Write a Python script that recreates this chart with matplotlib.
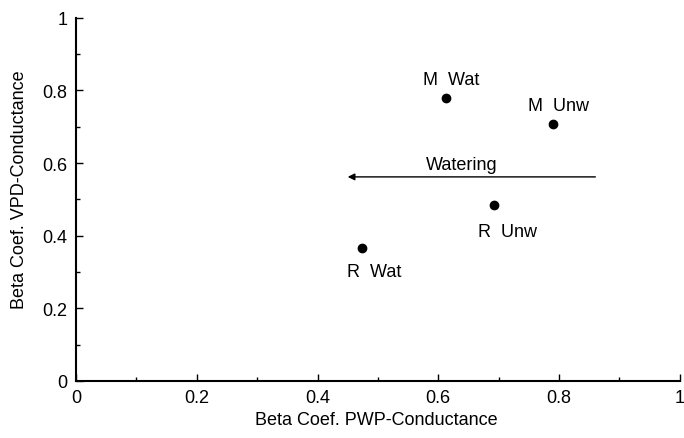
import matplotlib
matplotlib.use("Agg")
import matplotlib.pyplot as plt
from matplotlib.ticker import MultipleLocator

plt.rcParams['font.family'] = ['Liberation Sans', 'DejaVu Sans']

# Data
groups = ["M  Wat", "M  Unw", "R  Unw", "R  Wat"]
pwp_beta = [0.612, 0.790, 0.692, 0.473]
vpd_beta = [0.780, 0.708, 0.485, 0.366]
label_offsets = [(4, 13), (4, 13), (10, -19), (9, -17)]  # points
arrow_start = (0.86, 0.562)
arrow_end = (0.45, 0.562)
arrow_label = "Watering"
x_ticks = [0, 0.2, 0.4, 0.6, 0.8, 1]
x_ticklabels = ["0", "0.2", "0.4", "0.6", "0.8", "1"]
y_ticks = [0, 0.2, 0.4, 0.6, 0.8, 1]
y_ticklabels = ["0", "0.2", "0.4", "0.6", "0.8", "1"]

fs = 13

fig = plt.figure(figsize=(6.84, 4.39), dpi=100)
ax = fig.add_axes([0.111, 0.130, 0.883, 0.827])

ax.plot(pwp_beta, vpd_beta, 'o', color='black', markersize=6)
for g, x, y, off in zip(groups, pwp_beta, vpd_beta, label_offsets):
    ax.annotate(g, (x, y), xytext=off, textcoords='offset points',
                ha='center', va='center', fontsize=fs)

ax.annotate("", xy=arrow_end, xytext=arrow_start,
            arrowprops=dict(arrowstyle='-|>', color='black', lw=1.0,
                            mutation_scale=10, shrinkA=0, shrinkB=0))
ax.text(0.638, 0.597, arrow_label, ha='center', va='center', fontsize=fs)

ax.set_xlim(0, 1)
ax.set_ylim(0, 1)
ax.set_xticks(x_ticks)
ax.set_xticklabels(x_ticklabels)
ax.set_yticks(y_ticks)
ax.set_yticklabels(y_ticklabels)
ax.xaxis.set_minor_locator(MultipleLocator(0.1))
ax.yaxis.set_minor_locator(MultipleLocator(0.1))
ax.tick_params(which='both', direction='in', labelsize=fs, width=1, color='black')
ax.tick_params(which='major', length=5, pad=6)
ax.tick_params(which='minor', length=3)
ax.tick_params(top=False, right=False, which='both')
ax.spines['top'].set_visible(False)
ax.spines['right'].set_visible(False)
ax.spines['left'].set_linewidth(1.5)
ax.spines['bottom'].set_linewidth(1.5)

ax.set_xlabel("Beta Coef. PWP-Conductance", fontsize=fs)
ax.set_ylabel("Beta Coef. VPD-Conductance", fontsize=fs)
ax.xaxis.label.set_va('center')
ax.yaxis.label.set_va('center')
ax.xaxis.set_label_coords(0.498, -0.107)
ax.yaxis.set_label_coords(-0.093, 0.53)

fig.savefig("out.png", dpi=100)
